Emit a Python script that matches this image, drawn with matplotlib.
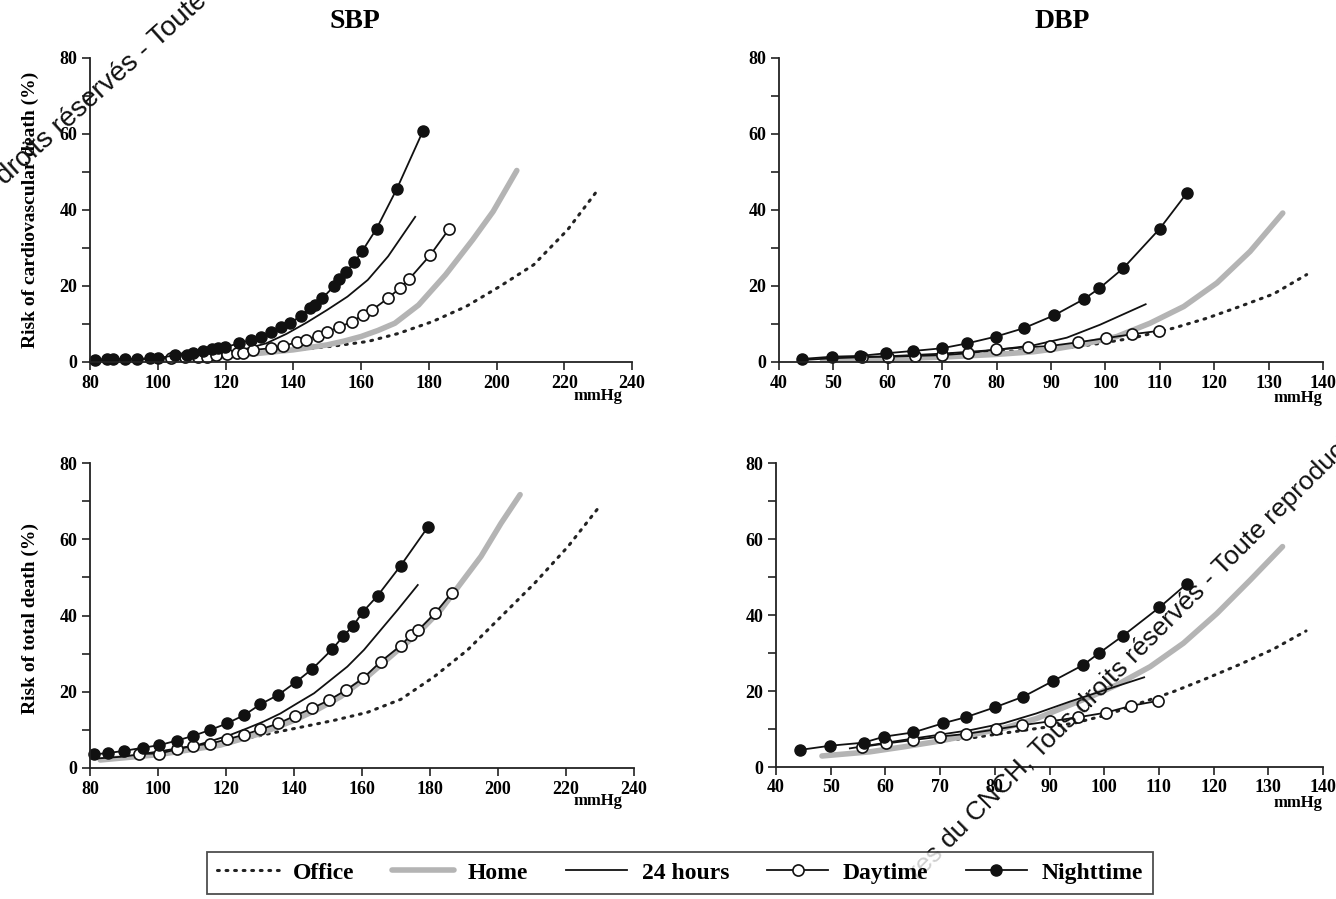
import matplotlib
matplotlib.use("Agg")
import matplotlib.pyplot as plt
from matplotlib.lines import Line2D

plt.rcParams['font.family'] = ['Liberation Serif', 'DejaVu Serif']
plt.rcParams['font.weight'] = 'bold'

# ---------------- Data ----------------
# SBP - cardiovascular death
sbp_cv_office_x = [100, 110, 120, 130, 138, 144, 152, 162, 171, 181, 191, 201, 211, 221, 230]
sbp_cv_office_y = [1.0, 1.4, 1.9, 2.5, 3.0, 3.5, 4.2, 5.4, 7.5, 10.6, 14.6, 19.9, 25.6, 34.8, 45.4]
sbp_cv_home_x = [100, 110, 120, 130, 140, 150, 155, 160, 165, 170, 177, 185, 193, 199, 206]
sbp_cv_home_y = [0.5, 0.9, 1.5, 2.3, 3.2, 4.5, 5.5, 6.7, 8.3, 10.2, 15.0, 23.0, 32.2, 39.6, 50.4]
sbp_cv_24h_x = [82, 90, 100, 110, 118, 125, 132, 138, 144, 150, 156, 162, 168, 176]
sbp_cv_24h_y = [0.5, 0.6, 0.9, 1.5, 2.2, 3.2, 4.9, 7.4, 10.4, 13.7, 17.2, 21.6, 27.8, 38.2]
sbp_cv_day_x = [104, 108, 112, 114.4, 117.2, 120.3, 123.3, 125.2, 128.2, 133.3, 137, 141, 143.7,
                147.2, 150, 153.5, 157.2, 160.6, 163.3, 168, 171.4, 174.2, 180.5, 186]
sbp_cv_day_y = [1.0, 1.2, 1.3, 1.4, 1.8, 2.1, 2.5, 2.5, 3.2, 3.6, 4.2, 5.2, 5.8,
                6.9, 8.0, 9.1, 10.6, 12.4, 13.7, 16.8, 19.4, 21.8, 28.2, 35.0]
sbp_cv_night_x = [81.4, 84.9, 86.9, 90.3, 93.8, 97.7, 100, 105.1, 108.6, 110.3, 113.4, 115.9, 117.9,
                  119.8, 124, 127.4, 130.4, 133.3, 136.5, 139, 142.2, 144.9, 146.4, 148.6, 152,
                  153.5, 155.7, 158, 160.3, 164.6, 170.6, 178.3]
sbp_cv_night_y = [0.6, 0.8, 0.8, 0.8, 0.8, 1.0, 1.0, 1.8, 1.8, 2.4, 3.0, 3.3, 3.6,
                  3.9, 4.9, 5.8, 6.5, 8.0, 9.1, 10.2, 12.1, 14.2, 15.0, 16.8, 19.9,
                  21.8, 23.8, 26.2, 29.1, 35.1, 45.6, 60.8]

# DBP - cardiovascular death
dbp_cv_office_x = [70, 80, 87, 93, 99, 105, 112.5, 118.6, 124.7, 130.9, 137]
dbp_cv_office_y = [2.0, 2.7, 3.1, 3.7, 4.9, 6.3, 8.9, 11.5, 14.6, 17.9, 23.0]
dbp_cv_home_x = [48, 60, 70, 80, 86.8, 91, 96, 102.1, 108.2, 114.4, 120.5, 126.6, 132.6]
dbp_cv_home_y = [0.3, 0.8, 1.3, 2.0, 2.7, 3.5, 4.7, 6.7, 10.2, 14.6, 20.8, 29.1, 39.2]
dbp_cv_24h_x = [44, 50, 60, 70, 80, 86.8, 92.9, 99, 107.4]
dbp_cv_24h_y = [0.5, 1.0, 1.5, 2.2, 3.2, 4.4, 6.4, 9.8, 15.2]
dbp_cv_day_x = [55.2, 60.1, 65, 69.9, 74.8, 79.9, 85.8, 89.8, 95, 100.2, 104.9, 109.9]
dbp_cv_day_y = [1.4, 1.4, 1.6, 1.8, 2.3, 3.3, 3.9, 4.2, 5.2, 6.3, 7.3, 8.2]
dbp_cv_night_x = [44.2, 49.8, 54.9, 59.7, 64.6, 69.9, 74.6, 79.9, 85, 90.6, 96, 98.9, 103.3, 110, 115]
dbp_cv_night_y = [0.8, 1.4, 1.6, 2.3, 2.9, 3.6, 4.9, 6.7, 8.9, 12.3, 16.5, 19.4, 24.7, 35.1, 44.5]

# SBP - total death
sbp_td_office_x = [100, 112.4, 122.3, 132.1, 142, 151.8, 161.6, 171.4, 181.3, 191.1, 200.9, 210.8, 220.6, 230.2]
sbp_td_office_y = [3.8, 5.2, 7.1, 8.9, 10.7, 12.5, 14.6, 18.0, 24.0, 31.0, 39.7, 48.5, 58.1, 69.0]
sbp_td_home_x = [83, 100, 118.3, 130, 140, 147, 153.7, 161.6, 169.5, 176.4, 183.2, 189.1, 195, 200.9, 206.5]
sbp_td_home_y = [2.1, 3.5, 6.0, 9.0, 12.5, 15.4, 18.7, 24.0, 30.1, 35.3, 41.5, 48.5, 55.5, 64.2, 71.7]
sbp_td_24h_x = [82, 90, 100, 111.5, 116.4, 121.3, 126.2, 131.1, 136, 141, 145.9, 150.8, 155.7,
                160.6, 165.5, 170.5, 176.4]
sbp_td_24h_y = [2.5, 3.0, 4.3, 6.0, 7.3, 8.7, 10.4, 12.2, 14.3, 17.0, 19.6, 23.1, 26.6,
                31.0, 36.2, 41.5, 48.0]
sbp_td_day_x = [94.5, 100.4, 105.6, 110.2, 115.4, 120.3, 125.2, 130.1, 135.4, 140.3, 145.4, 150.3,
                155.4, 160.3, 165.5, 171.4, 174.4, 176.6, 181.5, 186.4]
sbp_td_day_y = [3.7, 3.8, 4.9, 5.8, 6.4, 7.5, 8.7, 10.1, 11.7, 13.7, 15.7, 17.8,
                20.5, 23.5, 27.9, 32.1, 34.9, 36.2, 40.6, 45.9]
sbp_td_night_x = [81.3, 85.2, 90, 95.5, 100.4, 105.6, 110.2, 115.4, 120.3, 125.4, 130.1, 135.4,
                  140.5, 145.4, 151.3, 154.4, 157.4, 160.3, 164.6, 171.4, 179.3]
sbp_td_night_y = [3.6, 3.9, 4.5, 5.3, 6.0, 7.2, 8.4, 10.0, 11.7, 13.9, 16.7, 19.2,
                  22.5, 26.0, 31.2, 34.5, 37.3, 41.0, 45.2, 53.1, 63.1]

# DBP - total death
dbp_td_office_x = [70, 75.5, 81.6, 88, 94.4, 100.5, 106.5, 112.6, 118.7, 124.8, 130.9, 136.9]
dbp_td_office_y = [7.0, 7.6, 8.9, 10.2, 11.5, 13.7, 16.8, 19.8, 23.3, 27.0, 31.0, 35.8]
dbp_td_home_x = [48.4, 57.2, 63.3, 69.4, 75.5, 81.6, 87.7, 93.7, 98, 102.3, 108.4, 114.5, 120.6, 126.7, 132.6]
dbp_td_home_y = [2.9, 4.0, 5.3, 6.7, 8.4, 10.2, 12.8, 16.3, 18.8, 21.6, 26.4, 32.6, 40.4, 49.2, 58.0]
dbp_td_24h_x = [53.5, 63.3, 69.4, 75.5, 81.6, 87.6, 93.7, 99.8, 107.3]
dbp_td_24h_y = [4.9, 7.1, 8.4, 9.7, 11.5, 14.1, 17.2, 20.1, 23.6]
dbp_td_day_x = [55.7, 60.2, 65.1, 70, 74.7, 80.2, 85, 90, 95.3, 100.3, 104.9, 109.8]
dbp_td_day_y = [5.3, 6.2, 7.1, 8.0, 8.7, 9.9, 11.0, 12.0, 13.1, 14.3, 16.1, 17.4]
dbp_td_night_x = [44.4, 49.9, 56, 59.8, 65.1, 70.5, 74.7, 80, 85.2, 90.6, 96.1, 99.1, 103.4, 110.1, 115.1]
dbp_td_night_y = [4.5, 5.6, 6.4, 8.0, 9.1, 11.5, 13.1, 15.7, 18.5, 22.6, 26.8, 30.0, 34.5, 42.0, 48.2]

sbp_ticks = [80, 100, 120, 140, 160, 180, 200, 220, 240]
dbp_ticks = [40, 50, 60, 70, 80, 90, 100, 110, 120, 130, 140]
y_ticks = [0, 20, 40, 60, 80]
legend_labels = ["Office", "Home", "24 hours", "Daytime", "Nighttime"]

# ---------------- Styles ----------------
W, H = 1336, 899
fig = plt.figure(figsize=(W / 100, H / 100), dpi=100)

office_kw = dict(color='#222222', lw=2.2, linestyle=(0, (0.6, 2.2)), dash_capstyle='round')
home_kw = dict(color='#b4b4b4', lw=4.0, solid_capstyle='round')
h24_kw = dict(color='#111111', lw=1.3)
day_kw = dict(color='#111111', lw=1.3, marker='o', ms=8, mfc='white', mec='#111111', mew=1.2)
night_kw = dict(color='#111111', lw=1.3, marker='o', ms=8, mfc='#111111', mec='#111111')


def px_axes(l, t, r, b):
    return fig.add_axes([l / W, 1 - b / H, (r - l) / W, (b - t) / H])


def style(ax, xlim, xt):
    ax.set_xlim(*xlim)
    ax.set_ylim(0, 80)
    ax.set_xticks(xt)
    ax.set_yticks(y_ticks)
    ax.set_yticks([10, 30, 50, 70], minor=True)
    for s in ['top', 'right']:
        ax.spines[s].set_visible(False)
    for s in ['left', 'bottom']:
        ax.spines[s].set_linewidth(1.3)
        ax.spines[s].set_color('#222222')
    ax.tick_params(which='both', direction='out', length=6, width=1.2, color='#222222',
                   labelsize=13, pad=3)
    for lab in ax.get_xticklabels() + ax.get_yticklabels():
        lab.set_fontweight('bold')


def draw(ax, d):
    ax.plot(d[0], d[1], **office_kw)
    ax.plot(d[2], d[3], **home_kw)
    ax.plot(d[4], d[5], **h24_kw)
    ax.plot(d[6], d[7], clip_on=False, **day_kw)
    ax.plot(d[8], d[9], clip_on=False, **night_kw)


ax1 = px_axes(90, 58, 632, 362)
draw(ax1, [sbp_cv_office_x, sbp_cv_office_y, sbp_cv_home_x, sbp_cv_home_y, sbp_cv_24h_x, sbp_cv_24h_y,
           sbp_cv_day_x, sbp_cv_day_y, sbp_cv_night_x, sbp_cv_night_y])
style(ax1, (80, 240), sbp_ticks)

ax2 = px_axes(779, 58, 1323, 362)
draw(ax2, [dbp_cv_office_x, dbp_cv_office_y, dbp_cv_home_x, dbp_cv_home_y, dbp_cv_24h_x, dbp_cv_24h_y,
           dbp_cv_day_x, dbp_cv_day_y, dbp_cv_night_x, dbp_cv_night_y])
style(ax2, (40, 140), dbp_ticks)

ax3 = px_axes(90, 463, 634, 768)
draw(ax3, [sbp_td_office_x, sbp_td_office_y, sbp_td_home_x, sbp_td_home_y, sbp_td_24h_x, sbp_td_24h_y,
           sbp_td_day_x, sbp_td_day_y, sbp_td_night_x, sbp_td_night_y])
style(ax3, (80, 240), sbp_ticks)

ax4 = px_axes(776, 463, 1323, 767)
draw(ax4, [dbp_td_office_x, dbp_td_office_y, dbp_td_home_x, dbp_td_home_y, dbp_td_24h_x, dbp_td_24h_y,
           dbp_td_day_x, dbp_td_day_y, dbp_td_night_x, dbp_td_night_y])
style(ax4, (40, 140), dbp_ticks)

# titles / labels
fig.text(355 / W, 1 - 22 / H, "SBP", ha='center', va='center', fontsize=20, fontweight='bold')
fig.text(1062 / W, 1 - 22 / H, "DBP", ha='center', va='center', fontsize=20, fontweight='bold')
fig.text(30 / W, 1 - 210 / H, "Risk of cardiovascular death (%)", rotation=90,
         ha='center', va='center', fontsize=14, fontweight='bold')
fig.text(30 / W, 1 - 618 / H, "Risk of total death (%)", rotation=90,
         ha='center', va='center', fontsize=14, fontweight='bold')
for (x, y) in [(598, 396), (1298, 398), (598, 801), (1298, 803)]:
    fig.text(x / W, 1 - y / H, "mmHg", ha='center', va='center', fontsize=12, fontweight='bold')

# legend
handles = [Line2D([], [], **office_kw), Line2D([], [], **home_kw), Line2D([], [], **h24_kw),
           Line2D([], [], **day_kw), Line2D([], [], **night_kw)]
leg = fig.legend(handles, legend_labels, loc='center', bbox_to_anchor=(680 / W, 1 - 873 / H),
                 ncol=5, frameon=True, fancybox=False, edgecolor='#222222',
                 handlelength=2.6, columnspacing=1.6, handletextpad=0.6, borderpad=0.45,
                 prop={'weight': 'bold', 'size': 17})
leg.get_frame().set_linewidth(1.3)

# watermark text
fig.text(0 / W, 1 - 180 / H, "droits réservés - Toute reproduction", rotation=42,
         rotation_mode='anchor', ha='left', va='center', fontsize=20,
         family=['Liberation Sans', 'DejaVu Sans'], color='#111111', fontweight='normal')
fig.text(914 / W, 1 - 876 / H, "res du CNCH, Tous droits réservés - Toute reproduction", rotation=45,
         rotation_mode='anchor', ha='left', va='center', fontsize=19,
         family=['Liberation Sans', 'DejaVu Sans'], color='#111111', fontweight='normal')

fig.savefig("out.png", dpi=100)
